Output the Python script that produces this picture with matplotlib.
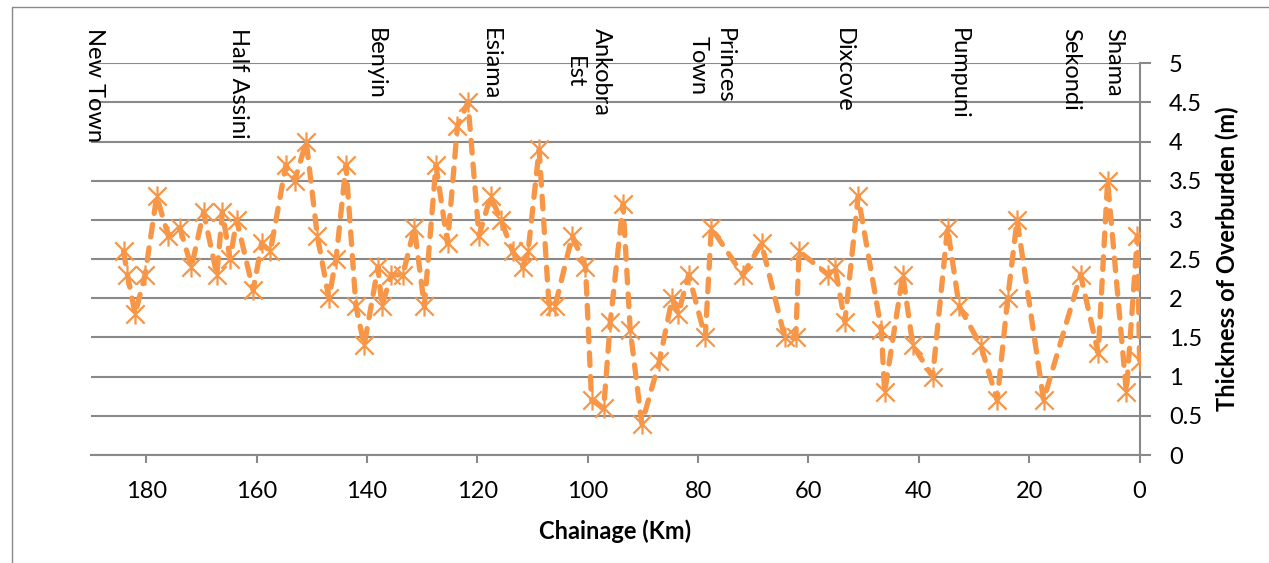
import matplotlib
matplotlib.use("Agg")
import matplotlib.pyplot as plt
from matplotlib.path import Path
from matplotlib.lines import Line2D

plt.rcParams["font.family"] = ["Lato", "DejaVu Sans"]

# chainage (km) and overburden thickness (m)
chainage_km = [184.1, 183.4, 182.0, 180.2, 178.1, 176.0, 173.9, 171.8, 169.6, 167.2,
               166.2, 164.8, 163.6, 160.6, 159.1, 157.5, 154.7, 153.1, 151.0, 149.0,
               146.9, 145.6, 143.8, 142.0, 140.5, 138.0, 137.3, 135.6, 133.5, 131.4,
               129.6, 127.5, 125.4, 123.6, 121.7, 119.7, 117.6, 115.7, 113.6, 111.8,
               110.8, 108.8, 107.0, 105.9, 102.8, 100.4, 99.3, 97.1, 95.9, 93.6,
               92.3, 90.2, 87.0, 84.7, 83.6, 81.7, 78.7, 77.6, 71.9, 68.5,
               64.3, 62.3, 61.7, 56.4, 55.2, 53.4, 51.0, 46.8, 46.2, 42.9,
               41.1, 37.5, 34.8, 32.7, 28.8, 25.8, 23.9, 22.2, 17.4, 10.7,
               7.5, 5.8, 2.4, 0.4, 0.0]
overburden_m = [2.6, 2.3, 1.8, 2.3, 3.3, 2.8, 2.9, 2.4, 3.1, 2.3,
                3.1, 2.5, 3.0, 2.1, 2.7, 2.6, 3.7, 3.5, 4.0, 2.8,
                2.0, 2.5, 3.7, 1.9, 1.4, 2.4, 1.9, 2.3, 2.3, 2.9,
                1.9, 3.7, 2.7, 4.2, 4.5, 2.8, 3.3, 3.0, 2.6, 2.4,
                2.6, 3.9, 1.9, 1.9, 2.8, 2.4, 0.7, 0.6, 1.7, 3.2,
                1.6, 0.4, 1.2, 2.0, 1.8, 2.3, 1.5, 2.9, 2.3, 2.7,
                1.5, 1.5, 2.6, 2.3, 2.4, 1.7, 3.3, 1.6, 0.8, 2.3,
                1.4, 1.0, 2.9, 1.9, 1.4, 0.7, 2.0, 3.0, 0.7, 2.3,
                1.3, 3.5, 0.8, 2.8, 1.2]

# towns along the route
stations = ["New Town", "Half Assini", "Benyin", "Esiama", "Ankobra\nEst",
            "Princes\nTown", "Dixcove", "Pumpuni", "Sekondi", "Shama"]
station_km = [189.3, 163.3, 138.5, 117.7, 100.0, 77.6, 53.6, 32.9, 12.4, 4.6]

x_ticks = [180, 160, 140, 120, 100, 80, 60, 40, 20, 0]
y_ticks = [0, 0.5, 1, 1.5, 2, 2.5, 3, 3.5, 4, 4.5, 5]

ORANGE = "#F79646"
GREY = "#898989"
W, H = 1269, 563

# excel style star: an x with a vertical bar through it
star = Path([(-1, -1), (1, 1), (-1, 1), (1, -1), (0, -1.1), (0, 1.1)],
            [Path.MOVETO, Path.LINETO] * 3)

fig = plt.figure(figsize=(W / 100, H / 100), dpi=100)
ax = fig.add_axes([91 / W, 108 / H, (1139.6 - 91) / W, (455 - 63.3) / H])

ax.plot(chainage_km, overburden_m, color=ORANGE, lw=3.8, ls=(0, (2.4, 2.1)),
        dash_capstyle="round", marker=star, ms=14.5, mew=1.6,
        mec=ORANGE, mfc="none", zorder=3)

ax.set_xlim(190, 0)
ax.set_ylim(0, 5)
ax.set_xticks(x_ticks)
ax.set_yticks(y_ticks)
ax.set_yticklabels([f"{v:g}" for v in y_ticks])

ax.yaxis.tick_right()
ax.yaxis.set_label_position("right")
for side in ("left", "top"):
    ax.spines[side].set_visible(False)
for side in ("right", "bottom"):
    ax.spines[side].set_color(GREY)
    ax.spines[side].set_linewidth(1.5)

ax.yaxis.grid(True, color=GREY, lw=1.5)
ax.set_axisbelow(True)
ax.tick_params(axis="x", direction="out", length=6, width=1.5, color=GREY,
               labelsize=17, pad=13)
ax.tick_params(axis="y", direction="out", length=8, width=1.5, color=GREY,
               labelsize=17, pad=13)

ax.set_xlabel("Chainage (Km)", fontsize=17, fontweight="bold")
ax.set_ylabel("Thickness of Overburden (m)", fontsize=17, fontweight="bold")
ax.xaxis.set_label_coords(0.5, -0.165)
ax.yaxis.set_label_coords(1.072, 0.5)

for name, km in zip(stations, station_km):
    ax.text(km, 5.45, name, rotation=270, ha="center", va="top",
            fontsize=17, linespacing=1.35, clip_on=False)

# chart frame, only its top and left sides fall inside the picture
fig.add_artist(Line2D([12 / W, 12 / W, 1], [0, 1 - 7 / H, 1 - 7 / H],
                      transform=fig.transFigure, color=GREY, lw=1))

fig.savefig("out.png", dpi=100)
